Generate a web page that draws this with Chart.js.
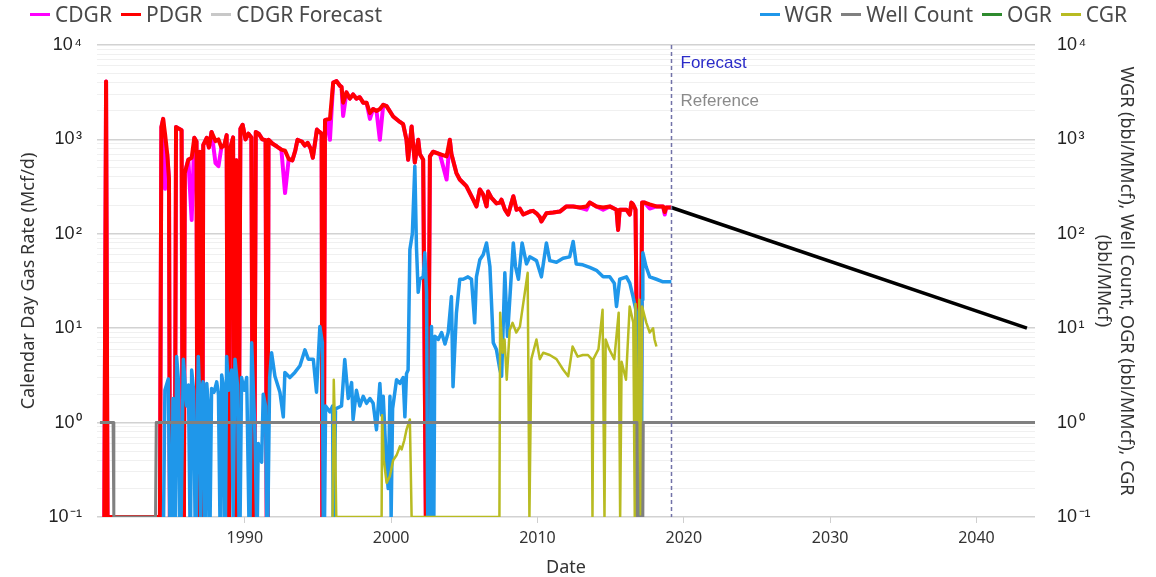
<!DOCTYPE html>
<html>
<head>
<meta charset="utf-8">
<script src="https://cdn.jsdelivr.net/npm/chart.js@4.4.1/dist/chart.umd.min.js"></script>
<style>
  html, body { margin: 0; padding: 0; background: #fff; }
  #wrap { position: relative; width: 1156px; height: 577px; }
  #chart { position: absolute; left: 0; top: 0; }
  .legend { position: absolute; top: 0; height: 28px; display: flex; align-items: center;
            font: 21px 'Noto Sans', sans-serif; color: #4a4a4a; white-space: nowrap; }
  .legend .item { display: flex; align-items: center; margin-right: 9px; }
  .legend .item:last-child { margin-right: 0; }
  .legend i { display: inline-block; width: 20px; height: 3px; margin-right: 5px; }
</style>
</head>
<body>
<div id="wrap">
  <canvas id="chart" width="1156" height="577"></canvas>
  <div class="legend" style="left:30px">
    <span class="item"><i style="background:#ff00ff"></i>CDGR</span>
    <span class="item"><i style="background:#ff0000"></i>PDGR</span>
    <span class="item"><i style="background:#c8c8c8"></i>CDGR Forecast</span>
  </div>
  <div class="legend" style="right:29px">
    <span class="item"><i style="background:#1f97ea"></i>WGR</span>
    <span class="item"><i style="background:#808080"></i>Well Count</span>
    <span class="item"><i style="background:#2e8b2e"></i>OGR</span>
    <span class="item"><i style="background:#b8bb22"></i>CGR</span>
  </div>
</div>
<script>
// rate series (PDGR and CDGR share the same dates)
const rateDates = [
  1980.40, 1980.52, 1980.62, 1984.20, 1984.30, 1984.42, 1984.55, 1984.70, 1984.82, 1984.88,
  1985.22, 1985.30, 1985.50, 1985.68, 1985.76, 1985.84, 1985.90, 1986.14, 1986.37, 1986.55,
  1986.70, 1986.76, 1986.86, 1986.93, 1987.02, 1987.06, 1987.10, 1987.16, 1987.40, 1987.55,
  1987.73, 1988.00, 1988.20, 1988.40, 1988.60, 1988.76, 1988.84, 1988.92, 1989.00, 1989.20,
  1989.28, 1989.34, 1989.42, 1989.50, 1989.58, 1989.70, 1989.85, 1990.05, 1990.25, 1990.45,
  1990.55, 1990.65, 1990.75, 1990.95, 1991.20, 1991.42, 1991.50, 1991.56, 1991.62, 1991.90,
  1992.20, 1992.50, 1992.75, 1993.00, 1993.25, 1993.45, 1993.60, 1993.90, 1994.10, 1994.30,
  1994.50, 1994.65, 1994.93, 1995.10, 1995.25, 1995.30, 1995.40, 1995.48, 1995.59, 1995.82,
  1996.04, 1996.27, 1996.50, 1996.61, 1996.72, 1996.95, 1997.18, 1997.40, 1997.63, 1997.86,
  1998.09, 1998.32, 1998.55, 1998.77, 1999.00, 1999.23, 1999.46, 1999.69, 2000.14, 2000.60,
  2000.82, 2001.05, 2001.16, 2001.40, 2001.50, 2001.62, 2001.85, 2001.96, 2002.19, 2002.37,
  2002.50, 2002.65, 2002.87, 2003.33, 2003.79, 2004.01, 2004.12, 2004.46, 2004.69, 2005.14,
  2005.60, 2005.83, 2006.06, 2006.29, 2006.52, 2006.63, 2006.86, 2007.20, 2007.43, 2007.54,
  2007.77, 2008.00, 2008.35, 2008.57, 2008.79, 2009.03, 2009.48, 2009.70, 2009.93, 2010.16,
  2010.27, 2010.61, 2011.07, 2011.53, 2011.98, 2012.44, 2012.89, 2013.35, 2013.57, 2014.03,
  2014.49, 2014.94, 2015.40, 2015.51, 2015.62, 2016.08, 2016.31, 2016.42, 2016.53, 2016.70,
  2016.76, 2016.85, 2017.05, 2017.10, 2017.15, 2017.33, 2017.67, 2018.13, 2018.58, 2018.70,
  2018.80, 2019.15
];
const pdgrValues = [
  0.1, 4100, 0.1, 0.1, 1350, 1650, 1150, 700, 380, 0.1,
  0.1, 1350, 1300, 1250, 0.1, 0.1, 440, 610, 640, 1040,
  950, 0.1, 0.1, 740, 600, 0.1, 0.1, 870, 1040, 820,
  1200, 960, 1000, 820, 870, 1110, 0.1, 0.1, 800, 1050,
  0.1, 0.1, 600, 0.1, 0.1, 1300, 1430, 1000, 1150, 1050,
  0.1, 0.1, 1200, 1150, 1000, 980, 0.1, 0.1, 990, 900,
  840, 780, 760, 620, 600, 760, 990, 950, 860, 920,
  800, 640, 1270, 1200, 1150, 0.1, 0.1, 1600, 1620, 1650,
  4000, 4150, 3700, 3600, 2450, 3150, 2700, 3000, 2700, 2800,
  2450, 2450, 1900, 2100, 2000, 2100, 2330, 2250, 1750, 1530,
  1450, 990, 610, 1370, 900, 570, 990, 700, 610, 0.1,
  0.1, 660, 740, 700, 660, 990, 700, 440, 376, 320,
  231, 195, 295, 260, 195, 280, 240, 210, 214, 230,
  181, 160, 250, 180, 185, 160, 172, 175, 165, 150,
  135, 165, 168, 172, 195, 195, 190, 195, 214, 195,
  190, 195, 180, 110, 180, 180, 160, 214, 205, 180,
  22, 0.1, 0.1, 22, 214, 214, 205, 195, 195, 170,
  190, 190
];
const cdgrValues = [
  0.1, 4100, 0.1, 0.1, 1350, 1650, 300, 700, 380, 0.1,
  0.1, 1350, 1300, 1250, 0.1, 0.1, 440, 610, 140, 1040,
  950, 0.1, 0.1, 740, 600, 0.1, 0.1, 870, 1040, 820,
  1200, 560, 520, 820, 870, 1110, 0.1, 0.1, 800, 1050,
  0.1, 0.1, 600, 0.1, 0.1, 1300, 1430, 1000, 1150, 1050,
  0.1, 0.1, 1200, 1150, 1000, 980, 0.1, 0.1, 990, 900,
  840, 780, 270, 620, 600, 760, 990, 950, 860, 920,
  800, 640, 1270, 1200, 1150, 0.1, 0.1, 1600, 1620, 990,
  4000, 4150, 3700, 3600, 1770, 3150, 2700, 3000, 2700, 2800,
  2450, 2450, 1650, 2100, 2000, 990, 2330, 2250, 1750, 1530,
  1450, 990, 610, 1370, 900, 570, 990, 700, 610, 0.1,
  0.1, 660, 740, 700, 376, 990, 700, 440, 376, 320,
  231, 195, 295, 260, 195, 280, 240, 210, 214, 230,
  181, 160, 250, 180, 185, 160, 172, 175, 165, 150,
  135, 165, 168, 172, 195, 195, 190, 180, 214, 195,
  180, 195, 180, 110, 180, 180, 160, 214, 205, 180,
  22, 0.1, 0.1, 22, 214, 214, 185, 195, 195, 160,
  190, 190
];

const wgrDates = [
  1984.45, 1984.54, 1984.77, 1984.88, 1985.00, 1985.10, 1985.18, 1985.26, 1985.34, 1985.45,
  1985.55, 1985.65, 1985.80, 1986.03, 1986.15, 1986.25, 1986.30, 1986.37, 1986.50, 1986.60,
  1986.68, 1986.82, 1986.92, 1986.98, 1987.02, 1987.15, 1987.25, 1987.32, 1987.40, 1987.50,
  1987.57, 1987.63, 1987.73, 1987.90, 1988.08, 1988.20, 1988.30, 1988.36, 1988.42, 1988.55,
  1988.62, 1988.68, 1988.76, 1988.90, 1989.10, 1989.20, 1989.26, 1989.33, 1989.50, 1989.60,
  1989.68, 1989.78, 1989.95, 1990.13, 1990.28, 1990.36, 1990.47, 1990.70, 1990.80, 1990.86,
  1990.92, 1991.15, 1991.26, 1991.42, 1991.50, 1991.58, 1991.70, 1991.83, 1992.06, 1992.40,
  1992.63, 1992.74, 1993.08, 1993.42, 1993.77, 1994.11, 1994.34, 1994.68, 1994.90, 1995.13,
  1995.30, 1995.36, 1995.45, 1995.52, 1995.82, 1996.00, 1996.04, 1996.10, 1996.20, 1996.61,
  1996.83, 1997.07, 1997.30, 1997.40, 1997.63, 1997.86, 1998.09, 1998.32, 1998.55, 1998.77,
  1999.00, 1999.23, 1999.35, 1999.46, 1999.69, 1999.80, 1999.92, 2000.00, 2000.10, 2000.37,
  2000.60, 2000.82, 2000.94, 2001.05, 2001.16, 2001.28, 2001.45, 2001.62, 2001.73, 2001.85,
  2001.96, 2002.19, 2002.30, 2002.42, 2002.50, 2002.65, 2002.76, 2002.82, 2002.92, 2002.99,
  2003.22, 2003.45, 2003.68, 2003.90, 2004.12, 2004.23, 2004.46, 2004.69, 2004.92, 2005.25,
  2005.49, 2005.71, 2005.83, 2006.06, 2006.29, 2006.52, 2006.75, 2006.98, 2007.20, 2007.43,
  2007.55, 2007.77, 2007.95, 2008.35, 2008.50, 2008.70, 2008.95, 2009.25, 2009.48, 2009.93,
  2010.27, 2010.61, 2010.84, 2011.30, 2011.75, 2012.20, 2012.44, 2012.65, 2013.10, 2013.57,
  2014.03, 2014.49, 2014.94, 2015.25, 2015.40, 2015.62, 2016.08, 2016.31, 2016.53, 2016.75,
  2016.85, 2017.10, 2017.15, 2017.20, 2017.42, 2017.67, 2018.13, 2018.58, 2019.15
];
const wgrValues = [
  0.1, 2.2, 2.9, 0.1, 0.1, 1.8, 0.1, 0.1, 5.0, 3.0,
  0.1, 0.1, 4.7, 1.5, 2.5, 0.1, 0.1, 3.6, 2.2, 0.1,
  0.1, 5.0, 1.8, 0.1, 2.0, 2.7, 0.1, 0.1, 2.6, 1.6,
  0.1, 0.1, 2.3, 2.1, 2.7, 2.0, 0.1, 0.1, 3.2, 2.4,
  0.1, 0.1, 5.0, 2.2, 3.6, 0.1, 0.1, 4.7, 2.5, 0.1,
  0.1, 3.0, 2.2, 3.0, 0.1, 0.1, 7.0, 0.71, 0.1, 0.1,
  0.6, 0.38, 2.0, 1.5, 0.1, 0.1, 3.0, 5.5, 3.1, 2.1,
  1.15, 3.4, 3.0, 3.4, 4.0, 5.9, 4.7, 4.7, 2.1, 10.4,
  7.0, 0.1, 0.1, 1.5, 1.3, 1.5, 0.1, 0.1, 1.4, 1.5,
  4.66, 1.8, 2.65, 1.08, 2.2, 1.5, 1.9, 1.6, 1.8, 1.6,
  0.84, 2.6, 1.2, 1.9, 0.32, 0.2, 1.9, 0.1, 1.4, 2.85,
  2.6, 3.0, 1.15, 3.3, 3.6, 68, 100, 520, 73, 24,
  33, 35, 63, 24, 0.1, 0.1, 10.4, 0.1, 0.1, 8.2,
  7.6, 9.0, 6.8, 9.0, 21.6, 2.4, 14.4, 33, 33, 35,
  33, 11.4, 35, 53, 60, 80, 45, 7.0, 5.9, 3.65,
  3.1, 38.6, 8.2, 80, 45, 33, 80, 48, 57, 52,
  35, 80, 52, 50, 55, 57, 83, 48, 47, 44,
  41, 35, 35, 30, 17, 33, 35, 30, 21.6, 15,
  0.1, 0.1, 20, 63, 45, 35, 33, 31, 31
];

const cgrDates = [
  1996.00, 1996.08, 1996.16, 1996.25, 1999.35, 1999.38, 1999.50, 1999.69, 1999.91, 2000.14,
  2000.37, 2000.60, 2000.72, 2000.90, 2001.05, 2001.28, 2001.40, 2007.40, 2007.45, 2007.62,
  2007.75, 2007.90, 2008.10, 2008.30, 2008.55, 2008.80, 2009.33, 2009.45, 2009.58, 2009.93,
  2010.16, 2010.39, 2010.84, 2011.30, 2011.75, 2012.10, 2012.40, 2012.75, 2013.10, 2013.45,
  2013.70, 2013.76, 2013.82, 2014.17, 2014.45, 2014.58, 2014.66, 2014.90, 2015.25, 2015.55,
  2015.65, 2015.75, 2016.05, 2016.30, 2016.55, 2016.65, 2016.70, 2016.80, 2016.95, 2017.05,
  2017.15, 2017.44, 2017.67, 2017.90, 2018.00, 2018.13
];
const cgrValues = [
  0.1, 2.85, 0.9, 0.1, 0.1, 1.2, 0.4, 0.23, 0.27, 0.4,
  0.45, 0.56, 0.52, 0.65, 0.84, 1.08, 0.1, 0.1, 14.6, 5.5,
  7.6, 2.85, 9.5, 11.4, 9.0, 10.4, 38.6, 0.1, 4.7, 7.6,
  4.7, 5.5, 5.2, 4.7, 3.65, 3.1, 6.4, 5.0, 5.2, 5.2,
  4.7, 0.1, 4.7, 6.0, 15.7, 0.1, 7.6, 6.0, 4.7, 14.6,
  0.1, 4.4, 2.85, 17, 11.4, 0.1, 18, 0.1, 20, 0.1,
  17, 11.4, 9.0, 10.0, 7.6, 6.4
];

const ogrDates = [];
const ogrValues = [];

const wellDates = [1980.10, 1981.00, 1981.05, 1983.90, 1983.95, 2016.80, 2016.83, 2017.20, 2017.23, 2044.00];
const wellValues = [1, 1, 0.1, 0.1, 1, 1, 0.1, 0.1, 1, 1];

const forecastDates = [2019.15, 2043.45];
const forecastValues = [190, 10];

const forecastStart = 2019.15;
const xTicks = [1990, 2000, 2010, 2020, 2030, 2040];
const yExponents = [-1, 0, 1, 2, 3, 4];

const sup = { '-1': '\u207B\u00B9', '0': '\u2070', '1': '\u00B9', '2': '\u00B2', '3': '\u00B3', '4': '\u2074' };

function points(xs, ys) {
  return xs.map((x, i) => ({ x: x, y: ys[i] }));
}

function logTicks() {
  const out = [];
  yExponents.forEach((e) => {
    for (let m = 1; m <= 9; m++) {
      if (e === 4 && m > 1) break;
      out.push({ value: m * Math.pow(10, e) });
    }
  });
  return out;
}

function isDecade(v) {
  const l = Math.log10(v);
  return Math.abs(l - Math.round(l)) < 1e-9;
}

function decadeLabel(v) {
  if (!isDecade(v)) return '';
  return '10\u200A' + sup[String(Math.round(Math.log10(v)))];
}

const forecastMarker = {
  id: 'forecastMarker',
  afterDatasetsDraw(chart) {
    const { ctx, chartArea, scales } = chart;
    const x = Math.round(scales.x.getPixelForValue(forecastStart)) + 0.5;
    ctx.save();
    ctx.strokeStyle = '#7272a8';
    ctx.lineWidth = 1.5;
    ctx.setLineDash([4, 3]);
    ctx.beginPath();
    ctx.moveTo(x, chartArea.top);
    ctx.lineTo(x, chartArea.bottom);
    ctx.stroke();
    ctx.setLineDash([]);
    ctx.font = "17px 'Liberation Sans', Arial, sans-serif";
    ctx.textBaseline = 'middle';
    ctx.fillStyle = '#2b2bc8';
    ctx.fillText('Forecast', x + 9, 63);
    ctx.fillStyle = '#8a8a8a';
    ctx.fillText('Reference', x + 9, 101);
    ctx.restore();
  }
};

Chart.defaults.font.family = "'Noto Sans', sans-serif";
Chart.defaults.color = '#333';

const lineBase = { pointRadius: 0, tension: 0, fill: false, borderJoinStyle: 'round', spanGaps: true };

new Chart(document.getElementById('chart').getContext('2d'), {
  type: 'line',
  data: {
    datasets: [
      { ...lineBase, label: 'CDGR Forecast', data: points(forecastDates, forecastValues), borderColor: '#000', borderWidth: 3.5, order: 0 },
      { ...lineBase, label: 'Well Count', data: points(wellDates, wellValues), borderColor: '#808080', borderWidth: 3, order: 1, yAxisID: 'y2' },
      { ...lineBase, label: 'CGR', data: points(cgrDates, cgrValues), borderColor: '#b8bb22', borderWidth: 2.5, order: 2, yAxisID: 'y2' },
      { ...lineBase, label: 'OGR', data: points(ogrDates, ogrValues), borderColor: '#2e8b2e', borderWidth: 2.5, order: 3, yAxisID: 'y2' },
      { ...lineBase, label: 'WGR', data: points(wgrDates, wgrValues), borderColor: '#1f97ea', borderWidth: 3.5, order: 4, yAxisID: 'y2' },
      { ...lineBase, label: 'PDGR', data: points(rateDates, pdgrValues), borderColor: '#ff0000', borderWidth: 4, order: 5 },
      { ...lineBase, label: 'CDGR', data: points(rateDates, cdgrValues), borderColor: '#ff00ff', borderWidth: 4, order: 6 }
    ]
  },
  options: {
    responsive: false,
    animation: false,
    events: [],
    layout: { padding: { top: 45, left: 0, right: 0, bottom: 0 } },
    plugins: { legend: { display: false }, tooltip: { enabled: false } },
    scales: {
      x: {
        type: 'linear',
        min: 1979.9,
        max: 2044,
        afterBuildTicks: (scale) => { scale.ticks = xTicks.map((v) => ({ value: v })); },
        afterFit: (scale) => { scale.height = 60; },
        ticks: { callback: (v) => String(v), font: { size: 16 }, padding: 6, maxRotation: 0, autoSkip: false, color: '#333' },
        grid: { drawOnChartArea: false, drawTicks: true, tickLength: 6, color: '#cfcfcf' },
        border: { display: false },
        title: { display: true, text: 'Date', font: { size: 18 }, padding: { top: 0, bottom: -2 }, color: '#333' }
      },
      y: {
        type: 'logarithmic',
        position: 'left',
        min: 0.1,
        max: 10000,
        afterBuildTicks: (scale) => { scale.ticks = logTicks(); },
        afterFit: (scale) => { scale.width = 97; },
        ticks: { callback: decadeLabel, autoSkip: false, padding: 15, font: { family: "'Liberation Sans', Arial, sans-serif", size: 18 }, color: '#222' },
        grid: {
          drawTicks: false,
          color: (c) => (c.tick && isDecade(c.tick.value) ? '#d2d2d2' : '#f0f0f0'),
          lineWidth: (c) => (c.tick && isDecade(c.tick.value) ? 1.5 : 1)
        },
        border: { display: false },
        title: { display: true, text: 'Calendar Day Gas Rate (Mcf/d)', font: { size: 18 }, padding: { top: 18 }, color: '#333' }
      },
      y2: {
        type: 'logarithmic',
        position: 'right',
        min: 0.1,
        max: 10000,
        afterBuildTicks: (scale) => { scale.ticks = logTicks(); },
        afterFit: (scale) => { scale.width = 121; },
        ticks: { callback: decadeLabel, autoSkip: false, padding: 14, font: { family: "'Liberation Sans', Arial, sans-serif", size: 18 }, color: '#222' },
        grid: { display: false },
        border: { display: false },
        title: {
          display: true,
          text: ['WGR (bbl/MMcf), Well Count, OGR (bbl/MMcf), CGR', '(bbl/MMcf)'],
          font: { size: 18, lineHeight: 1.3 },
          padding: { top: 18 },
          color: '#333'
        }
      }
    }
  },
  plugins: [forecastMarker]
});
</script>
</body>
</html>
